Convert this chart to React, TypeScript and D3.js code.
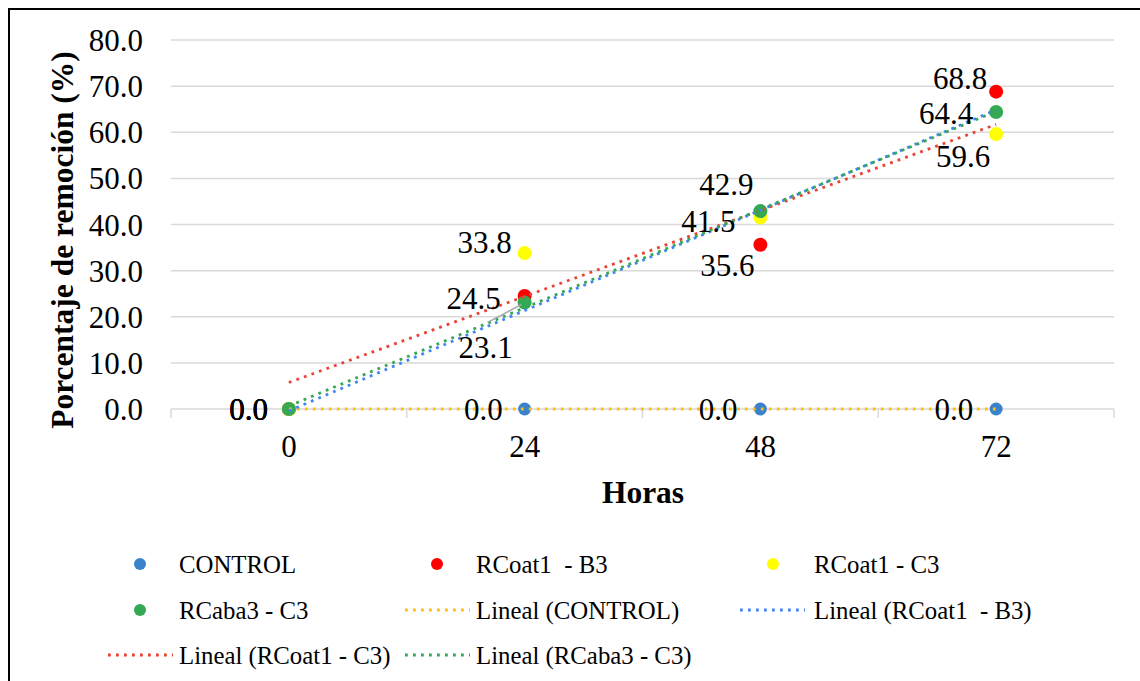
import React from "react";
import * as d3 from "d3";

const HOURS = [0, 24, 48, 72];
const Y_TICKS = [0, 10, 20, 30, 40, 50, 60, 70, 80];

const CONTROL = [0, 0, 0, 0];
const RCOAT1_B3 = [0, 24.5, 35.6, 68.8];
const RCOAT1_C3 = [0, 33.8, 41.5, 59.6];
const RCABA3_C3 = [0, 23.1, 42.9, 64.4];

const SERIES_NAMES = ["CONTROL", "RCoat1  - B3", "RCoat1 - C3", "RCaba3 - C3"];
const SERIES_VALUES = [CONTROL, RCOAT1_B3, RCOAT1_C3, RCABA3_C3];
const POINT_COLORS = ["#3A83CC", "#FF0000", "#FFFF00", "#34A853"];
const TREND_COLORS = ["#FFC000", "#4285F4", "#EA4335", "#34A853"];

// label offsets (dx = right end relative to point, dy = vertical centre relative to point)
const LABEL_OFFSETS: [number, number][][] = [
  [[-21, 0], [-22, 0], [-23, 0], [-23, 0]],
  [[-21, 0], [-24, 2], [-6, 20], [-9, -14]],
  [[-21, 0], [-13, -11], [-25, 3], [-6, 22]],
  [[-21, 0], [-12, 45], [-7, -27], [-23, 1]],
];

const FONT = "'Liberation Serif', 'Times New Roman', serif";

function linFit(xs: number[], ys: number[]) {
  const mx = d3.mean(xs)!;
  const my = d3.mean(ys)!;
  let num = 0, den = 0;
  xs.forEach((x, i) => {
    num += (x - mx) * (ys[i] - my);
    den += (x - mx) * (x - mx);
  });
  const slope = den === 0 ? 0 : num / den;
  return { slope, intercept: my - slope * mx };
}

export default function App() {
  const W = 1140, H = 681;
  const plotL = 171, plotR = 1114;
  const x = d3.scaleBand<number>().domain(HOURS).range([plotL, plotR]);
  const cx = (h: number) => x(h)! + x.bandwidth() / 2;
  const y = d3.scaleLinear().domain([0, 80]).range([409, 40]);
  const bandEdges = HOURS.map((h) => x(h)!).concat([plotR]);

  const dotted = { strokeWidth: 2.8, strokeDasharray: "2.8 5.2" };
  const tickFs = 31;

  // trendline order in drawing: Lineal(CONTROL), Lineal(B3), Lineal(C3), Lineal(Caba3)
  const trends = SERIES_VALUES.map((vals) => linFit(HOURS, vals));

  const legendItems = [
    { kind: "pt", color: POINT_COLORS[0], label: "CONTROL", mx: 140, tx: 179, ly: 564 },
    { kind: "pt", color: POINT_COLORS[1], label: "RCoat1  - B3", mx: 437, tx: 476, ly: 564 },
    { kind: "pt", color: POINT_COLORS[2], label: "RCoat1 - C3", mx: 773, tx: 814, ly: 564 },
    { kind: "pt", color: POINT_COLORS[3], label: "RCaba3 - C3", mx: 140, tx: 179, ly: 610 },
    { kind: "ln", color: TREND_COLORS[0], label: "Lineal (CONTROL)", mx: 405, tx: 476, ly: 610 },
    { kind: "ln", color: TREND_COLORS[1], label: "Lineal (RCoat1  - B3)", mx: 740, tx: 814, ly: 610 },
    { kind: "ln", color: TREND_COLORS[2], label: "Lineal (RCoat1 - C3)", mx: 108, tx: 179, ly: 655 },
    { kind: "ln", color: TREND_COLORS[3], label: "Lineal (RCaba3 - C3)", mx: 405, tx: 476, ly: 655 },
  ];

  return (
    <svg
      width={W}
      height={H}
      style={{ position: "absolute", left: 0, top: 0, background: "#fff" }}
      fontFamily={FONT}
    >
      <rect x={0} y={0} width={W} height={H} fill="#fff" />
      <rect x={9} y={9} width={W + 20} height={H + 20} fill="none" stroke="#000" strokeWidth={2} />

      {/* gridlines */}
      {Y_TICKS.map((t) => (
        <line key={t} x1={plotL} x2={plotR} y1={y(t)} y2={y(t)} stroke="#D9D9D9" strokeWidth={1.5} />
      ))}
      {/* x axis ticks */}
      {bandEdges.map((e, i) => (
        <line key={i} x1={e} x2={e} y1={y(0)} y2={y(0) + 9} stroke="#D9D9D9" strokeWidth={1.5} />
      ))}

      {/* y tick labels */}
      {Y_TICKS.map((t) => (
        <text key={t} x={143} y={y(t) + 11} fontSize={tickFs} textAnchor="end" fill="#000">
          {t.toFixed(1)}
        </text>
      ))}
      {/* x tick labels */}
      {HOURS.map((h) => (
        <text key={h} x={cx(h)} y={457} fontSize={tickFs} textAnchor="middle" fill="#000">
          {h}
        </text>
      ))}

      {/* axis titles */}
      <text
        transform={`translate(73,240) rotate(-90)`}
        fontSize={31.5}
        fontWeight="bold"
        textAnchor="middle"
        fill="#000"
      >
        Porcentaje de remoción (%)
      </text>
      <text x={643} y={503} fontSize={31.5} fontWeight="bold" textAnchor="middle" fill="#000">
        Horas
      </text>

      {/* points */}
      {SERIES_VALUES.map((vals, s) =>
        vals.map((v, i) => (
          <circle key={`${s}-${i}`} cx={cx(HOURS[i])} cy={y(v)} r={s === 0 ? 6.5 : 7} fill={POINT_COLORS[s]} />
        ))
      )}

      {/* trendlines */}
      {trends.map((t, s) => (
        <line
          key={s}
          x1={cx(HOURS[0])}
          x2={cx(HOURS[HOURS.length - 1])}
          y1={y(t.intercept + t.slope * HOURS[0])}
          y2={y(t.intercept + t.slope * HOURS[HOURS.length - 1])}
          stroke={TREND_COLORS[s === 1 ? 1 : s === 2 ? 2 : s]}
          {...dotted}
        />
      ))}

      {/* leader line for green label at 24 */}
      <line
        x1={cx(HOURS[1]) - 37}
        y1={y(RCABA3_C3[1]) + 20}
        x2={cx(HOURS[1]) - 3}
        y2={y(RCABA3_C3[1]) + 2}
        stroke="#A6A6A6"
        strokeWidth={1.5}
      />

      {/* data labels */}
      {SERIES_VALUES.map((vals, s) =>
        vals.map((v, i) => {
          const [dx, dy] = LABEL_OFFSETS[s][i];
          return (
            <text
              key={`l${s}-${i}`}
              x={cx(HOURS[i]) + dx}
              y={y(v) + dy + 11}
              fontSize={tickFs}
              textAnchor="end"
              fill="#000"
            >
              {v.toFixed(1)}
            </text>
          );
        })
      )}

      {/* legend */}
      {legendItems.map((it, i) => (
        <g key={i}>
          {it.kind === "pt" ? (
            <circle cx={it.mx} cy={it.ly} r={6} fill={it.color} />
          ) : (
            <line x1={it.mx} x2={it.mx + 65} y1={it.ly} y2={it.ly} stroke={it.color} {...dotted} />
          )}
          <text x={it.tx} y={it.ly + 9} fontSize={24.8} fill="#000" style={{ whiteSpace: "pre" }}>
            {it.label}
          </text>
        </g>
      ))}
    </svg>
  );
}
